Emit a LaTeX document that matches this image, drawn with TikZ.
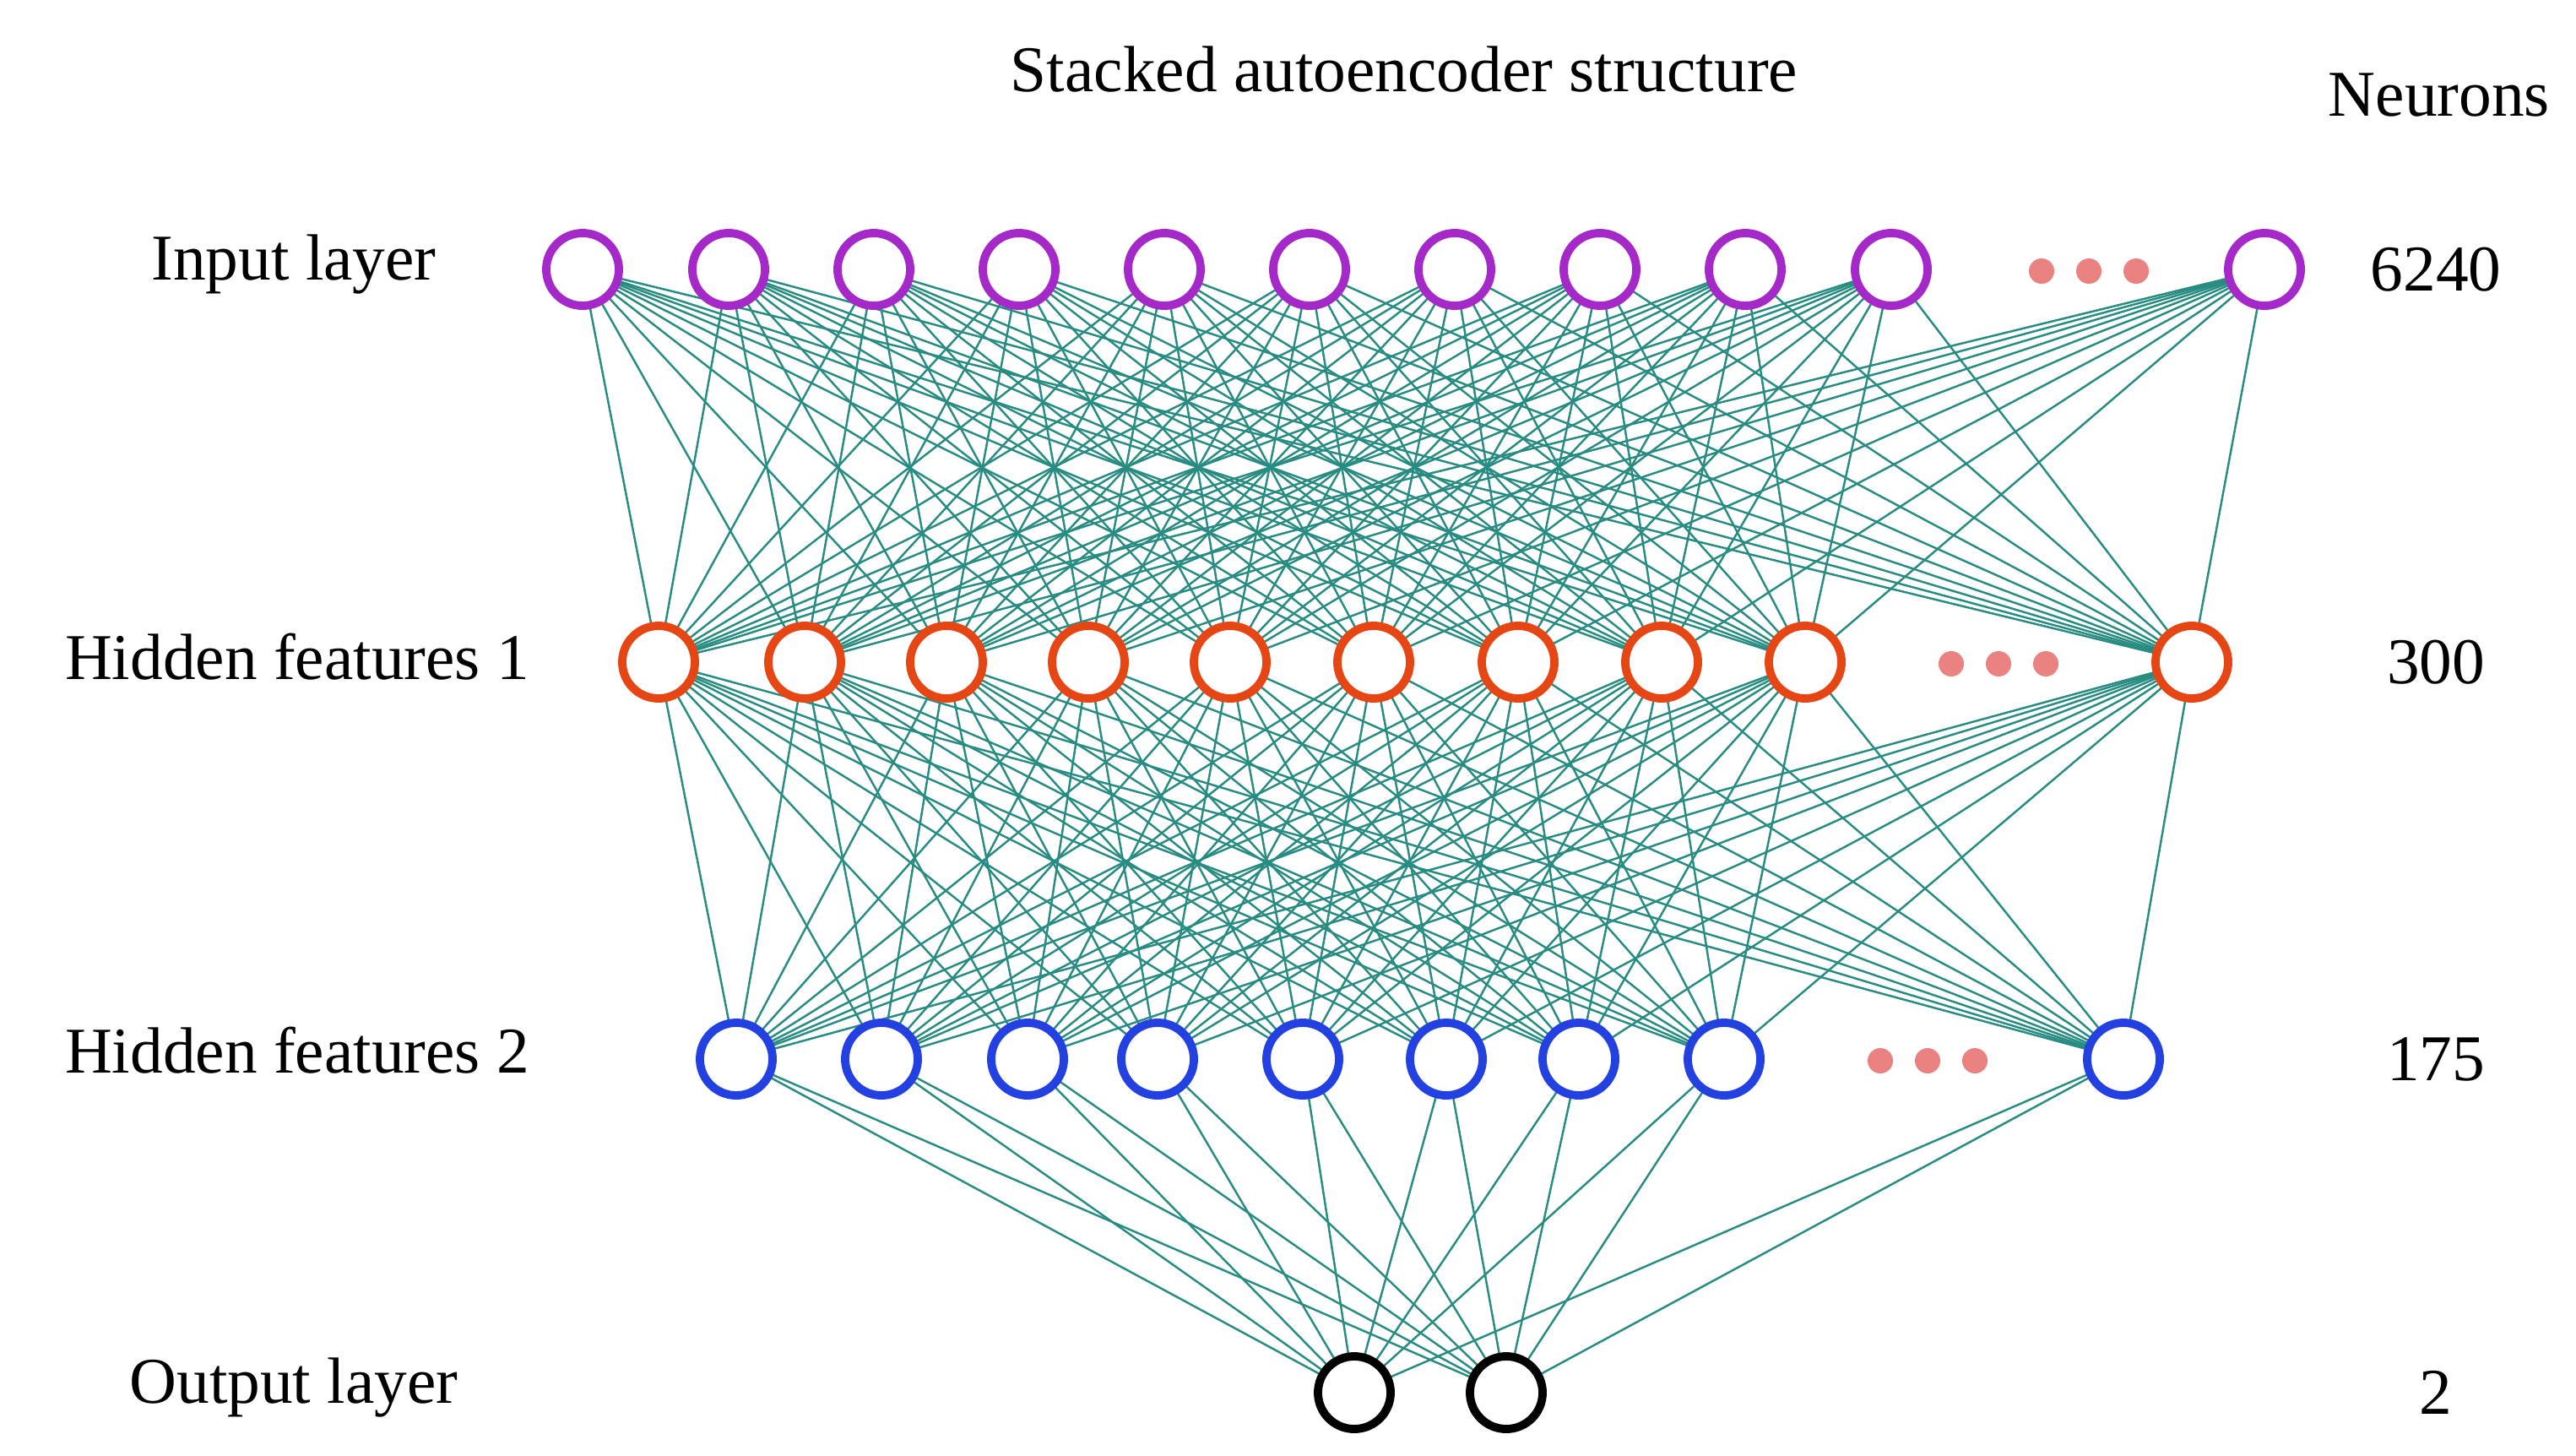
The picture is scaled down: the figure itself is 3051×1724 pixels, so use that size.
\documentclass[tikz,border=0pt]{standalone}
\usepackage{fontspec}
\setmainfont{Liberation Serif}
\begin{document}
\begin{tikzpicture}[x=0.01cm,y=-0.01cm,
  neu/.style={circle,draw,line width=2.8pt,minimum size=0.86cm,inner sep=0pt,fill=white},
  edge/.style={draw=edgec,line width=0.7pt},
  dot/.style={circle,fill=dotc,minimum size=0.3cm,inner sep=0pt},
  lab/.style={font=\fontsize{22}{26}\selectfont}]
\definecolor{inc}{RGB}{165,40,200}
\definecolor{h1c}{RGB}{230,70,20}
\definecolor{h2c}{RGB}{35,65,225}
\definecolor{edgec}{RGB}{40,140,130}
\definecolor{dotc}{RGB}{235,130,130}
\useasboundingbox (0,0) rectangle (3051,1724);
% layers
\foreach \x [count=\i] in {690,863,1035,1207,1379,1551,1723,1895,2067,2240,2682}
  \coordinate (a\i) at (\x,319);
\foreach \x [count=\i] in {780,953,1121,1289,1457,1627,1798,1968,2138,2596}
  \coordinate (b\i) at (\x,784);
\foreach \x [count=\i] in {872,1044,1217,1371,1543,1713,1870,2042,2515}
  \coordinate (c\i) at (\x,1254);
\coordinate (d1) at (1604,1649);
\coordinate (d2) at (1784,1649);
% edges
\foreach \i in {1,...,11} \foreach \j in {1,...,10} \draw[edge] (a\i) -- (b\j);
\foreach \i in {1,...,10} \foreach \j in {1,...,9} \draw[edge] (b\i) -- (c\j);
\foreach \i in {1,...,9} \foreach \j in {1,2} \draw[edge] (c\i) -- (d\j);
% nodes
\foreach \i in {1,...,11} \node[neu,draw=inc] (na\i) at (a\i) {};
\foreach \i in {1,...,10} \node[neu,draw=h1c] (nb\i) at (b\i) {};
\foreach \i in {1,...,9} \node[neu,draw=h2c] (nc\i) at (c\i) {};
\foreach \i in {1,2} \node[neu,draw=black] (nd\i) at (d\i) {};
% ellipsis dots
\foreach \x [count=\k] in {2418,2474,2530} \node[dot] (da\k) at (\x,321) {};
\foreach \x [count=\k] in {2311,2367,2423} \node[dot] (db\k) at (\x,786) {};
\foreach \x [count=\k] in {2227,2283,2339} \node[dot] (dc\k) at (\x,1256) {};
% labels
\node[lab] (title) at (1663,82) {Stacked autoencoder structure};
\node[lab] (neur) at (2889,113) {Neurons};
\node[lab] (l1) at (348,313) {Input layer};
\node[lab] (l2) at (352,778) {Hidden features 1};
\node[lab] (l3) at (352,1244) {Hidden features 2};
\node[lab] (l4) at (348,1643) {Output layer};
\node[lab] (n1) at (2885,319) {6240};
\node[lab] (n2) at (2885,784) {300};
\node[lab] (n3) at (2885,1254) {175};
\node[lab] (n4) at (2885,1649) {2};
\end{tikzpicture}
\end{document}
